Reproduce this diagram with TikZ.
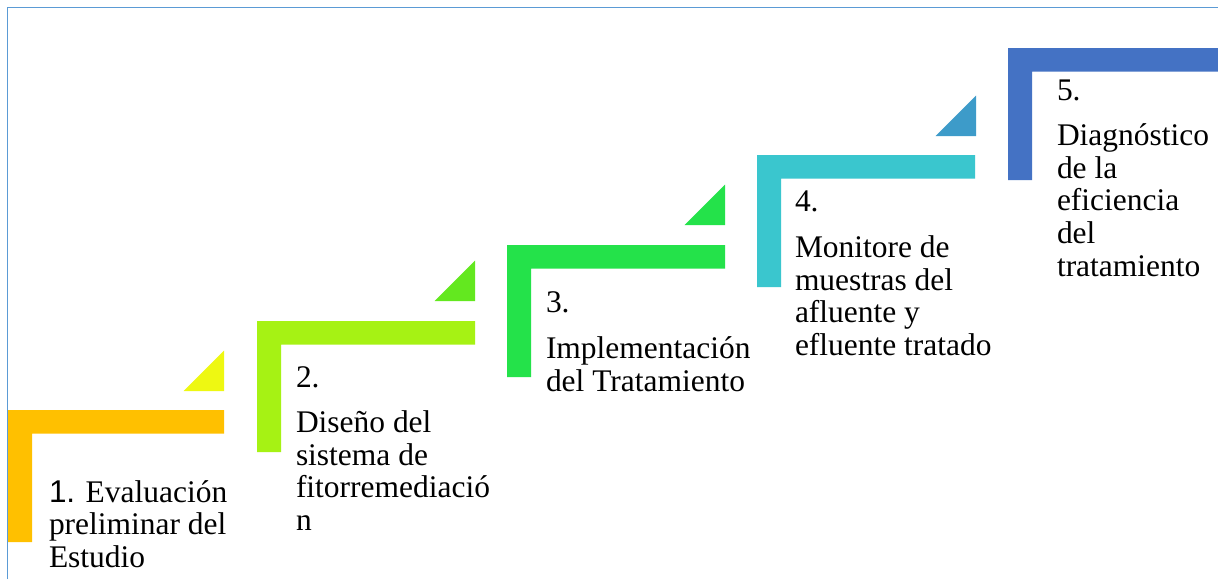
\documentclass[tikz,border=0pt]{standalone}
\usepackage{fontspec}
\setmainfont{Liberation Serif}
\newfontfamily\sansnum{Liberation Sans}
\definecolor{frameblue}{HTML}{5B9BD5}
\definecolor{cone}{HTML}{FFC000}
\definecolor{tone}{HTML}{EEF812}
\definecolor{ctwo}{HTML}{A6F214}
\definecolor{ttwo}{HTML}{63E81F}
\definecolor{cthree}{HTML}{24E24A}
\definecolor{tthree}{HTML}{24E24A}
\definecolor{cfour}{HTML}{3AC6CE}
\definecolor{tfour}{HTML}{3D9BC9}
\definecolor{cfive}{HTML}{4472C4}
\newcommand{\stepL}[5]{%
  \fill[#5] (#1,#3) -- (#2,#3) -- (#2,#3+23.5) -- (#1+24,#3+23.5) -- (#1+24,#4) -- (#1,#4) -- cycle;}
\newcommand{\stepT}[3]{%
  \fill[#3] (#1-40.5,#2) -- (#1,#2) -- (#1,#2-40.5) -- cycle;}
\begin{document}
\begin{tikzpicture}[x=0.75pt,y=-0.75pt,
  steptext/.style={anchor=base west,inner sep=0pt,outer sep=0pt,font=\fontsize{23.6pt}{24.4pt}\selectfont}]
\useasboundingbox (0,0) rectangle (1218,579);
\fill[white] (0,0) rectangle (1218,579);
% L shapes
\stepL{8}{224}{410}{542}{cone}
\stepL{257}{475}{321}{452}{ctwo}
\stepL{507}{725}{245}{377}{cthree}
\stepL{757}{975}{155}{287}{cfour}
\stepL{1008}{1220}{48}{180}{cfive}
% triangles
\stepT{224}{391}{tone}
\stepT{475}{301}{ttwo}
\stepT{725}{225}{tthree}
\stepT{976}{136}{tfour}
% frame
\draw[frameblue,line width=1.2pt] (7.5,579) -- (7.5,7.5) -- (1220,7.5);
% texts
\node[steptext] (s1) at (49,502) {\parbox[t]{240pt}{\raggedright {\sansnum 1.} Evaluación\\ preliminar del\\ Estudio}};
\node[steptext] (s2) at (296,387) {\parbox[t]{240pt}{\raggedright 2.\\[10pt] Diseño del\\ sistema de\\ fitorremediació\\ n}};
\node[steptext] (s3) at (546,312.7) {\parbox[t]{240pt}{\raggedright 3.\\[10pt] Implementación\\ del Tratamiento}};
\node[steptext] (s4) at (795,211.7) {\parbox[t]{240pt}{\raggedright 4.\\[10pt] Monitore de\\ muestras del\\ afluente y\\ efluente tratado}};
\node[steptext] (s5) at (1057,100) {\parbox[t]{140pt}{\raggedright 5.\\[10pt] Diagnóstico\\ de la\\ eficiencia\\ del\\ tratamiento}};
\end{tikzpicture}
\end{document}
